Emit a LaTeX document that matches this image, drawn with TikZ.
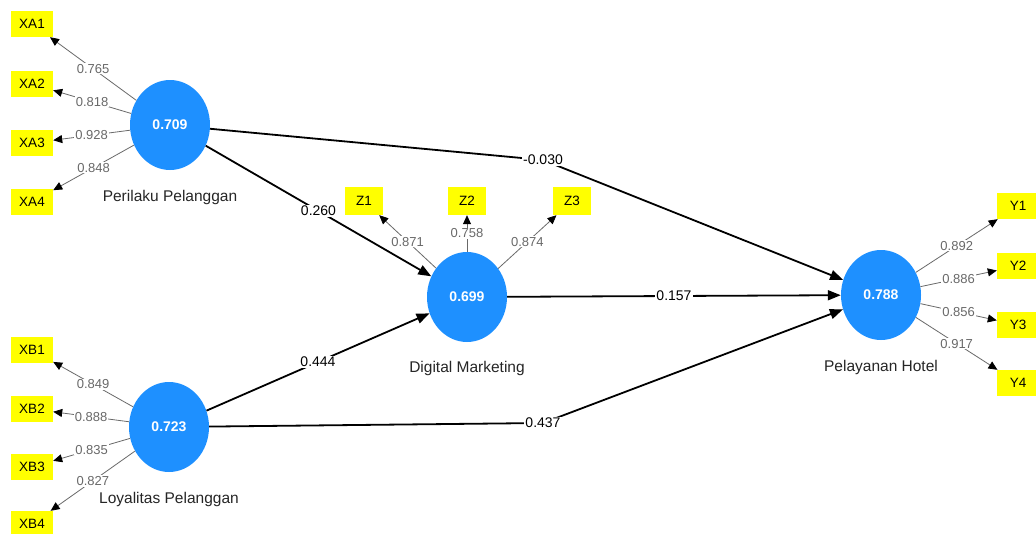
\documentclass[tikz,border=0pt]{standalone}
\usepackage{fontspec}
\setmainfont{Liberation Sans}
\usetikzlibrary{shapes.geometric,arrows.meta}
\definecolor{lvblue}{RGB}{30,144,255}
\definecolor{indyellow}{RGB}{255,255,0}
\definecolor{loadgray}{RGB}{105,105,105}
\begin{document}
\begin{tikzpicture}[x=1pt,y=-1pt,
  lv/.style={ellipse, fill=lvblue, minimum width=80pt, minimum height=90pt, inner sep=0pt, text=white, font=\bfseries\fontsize{14}{14}\selectfont},
  ind/.style={rectangle, fill=indyellow, minimum width=42pt, minimum height=26pt, inner sep=0pt, font=\fontsize{13.5}{13.5}\selectfont},
  zind/.style={ind, minimum width=38pt, minimum height=28pt},
  lvname/.style={font=\fontsize{15.5}{15.5}\selectfont, text=black!85},
  loadline/.style={draw=loadgray, line width=0.8pt, -{Triangle[length=9pt,width=8pt,color=black]}},
  loadlbl/.style={fill=white, inner sep=1pt, text=loadgray, font=\fontsize{13}{13}\selectfont},
  pathline/.style={draw=black, line width=1.8pt, -{Triangle[length=13pt,width=10pt]}},
  coef/.style={fill=white, inner sep=1.5pt, text=black, font=\fontsize{14}{14}\selectfont}
]
\useasboundingbox (0,0) rectangle (1036,533);
\fill[white] (0,0) rectangle (1036,533);

% latent variables
\node[lv] (pp) at (170,125) {0.709};
\node[lv] (lp) at (169,427) {0.723};
\node[lv] (dm) at (467,297) {0.699};
\node[lv] (ph) at (881,295) {0.788};
\node[lvname] (ppn) at (170,197) {Perilaku Pelanggan};
\node[lvname] (lpn) at (169,499) {Loyalitas Pelanggan};
\node[lvname] (dmn) at (467,368) {Digital Marketing};
\node[lvname] (phn) at (881,367) {Pelayanan Hotel};

% indicators
\node[ind] (xa1) at (32,24) {XA1};
\node[ind] (xa2) at (32,84) {XA2};
\node[ind] (xa3) at (32,143) {XA3};
\node[ind] (xa4) at (32,202) {XA4};
\node[ind] (xb1) at (32,350) {XB1};
\node[ind] (xb2) at (32,409) {XB2};
\node[ind] (xb3) at (32,467) {XB3};
\node[ind] (xb4) at (32,524) {XB4};
\node[zind] (z1) at (364,201) {Z1};
\node[zind] (z2) at (467,201) {Z2};
\node[zind] (z3) at (572,201) {Z3};
\node[ind] (y1) at (1018,206) {Y1};
\node[ind] (y2) at (1018,266) {Y2};
\node[ind] (y3) at (1018,325) {Y3};
\node[ind] (y4) at (1018,383) {Y4};

% outer loadings
\draw[loadline] (pp) -- node[loadlbl] {0.765} (xa1);
\draw[loadline] (pp) -- node[loadlbl] {0.818} (xa2);
\draw[loadline] (pp) -- node[loadlbl] {0.928} (xa3);
\draw[loadline] (pp) -- node[loadlbl] {0.848} (xa4);
\draw[loadline] (lp) -- node[loadlbl] {0.849} (xb1);
\draw[loadline] (lp) -- node[loadlbl] {0.888} (xb2);
\draw[loadline] (lp) -- node[loadlbl] {0.835} (xb3);
\draw[loadline] (lp) -- node[loadlbl] {0.827} (xb4);
\draw[loadline] (dm) -- node[loadlbl] {0.871} (z1);
\draw[loadline] (dm) -- node[loadlbl] {0.758} (z2);
\draw[loadline] (dm) -- node[loadlbl] {0.874} (z3);
\draw[loadline] (ph) -- node[loadlbl] {0.892} (y1);
\draw[loadline] (ph) -- node[loadlbl] {0.886} (y2);
\draw[loadline] (ph) -- node[loadlbl] {0.856} (y3);
\draw[loadline] (ph) -- node[loadlbl] {0.917} (y4);

% structural paths
\draw[pathline] (pp) -- node[coef] {0.260} (dm);
\draw[pathline] (lp) -- node[coef] {0.444} (dm);
\draw[pathline] (dm) -- node[coef] {0.157} (ph);
\coordinate (k030) at (543,160);
\coordinate (k437) at (543,423);
\draw[pathline] (pp) -- (k030) -- (ph);
\draw[pathline] (lp) -- (k437) -- (ph);
\node[coef] (c030) at (k030) {-0.030};
\node[coef] (c437) at (k437) {0.437};
\end{tikzpicture}
\end{document}
